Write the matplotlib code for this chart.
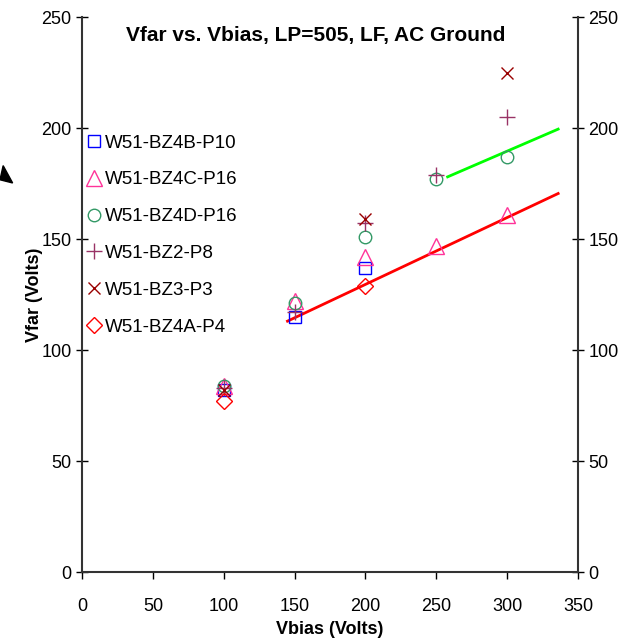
import matplotlib.pyplot as plt
from matplotlib.patches import Polygon

plt.rcParams['font.family'] = ['Liberation Sans', 'DejaVu Sans']

# data
vb_4b = [100, 150, 200]
vf_4b = [82, 115, 137]
vb_4c = [100, 150, 200, 250, 300]
vf_4c = [84, 122, 142, 147, 161]
vb_4d = [100, 150, 200, 250, 300]
vf_4d = [84, 121, 151, 177, 187]
vb_2 = [100, 150, 200, 250, 300]
vf_2 = [83, 117, 157, 179, 205]
vb_3 = [100, 200, 300]
vf_3 = [82, 159, 225]
vb_4a = [100, 200]
vf_4a = [77, 129]

# trend lines
red_x = [145, 336]
red_y = [113, 170.5]
green_x = [258, 336]
green_y = [178, 199.5]

fig = plt.figure(figsize=(6.31, 6.42), dpi=100)
ax = fig.add_axes([0.130, 0.109, 0.786, 0.8645])

ax.plot(red_x, red_y, color='#FF0000', lw=2, zorder=1)
ax.plot(green_x, green_y, color='#00FF00', lw=2, zorder=1)

ms = 9
ax.plot(vb_4b, vf_4b, ls='none', marker='s', ms=ms, mfc='none', mec='#0000FF', mew=1, label='W51-BZ4B-P10')
ax.plot(vb_4c, vf_4c, ls='none', marker='^', ms=ms + 2, mfc='none', mec='#FF3399', mew=1, label='W51-BZ4C-P16')
ax.plot(vb_4d, vf_4d, ls='none', marker='o', ms=ms, mfc='none', mec='#339966', mew=1, label='W51-BZ4D-P16')
ax.plot(vb_2, vf_2, ls='none', marker='+', ms=ms + 2, mec='#993366', mew=1, label='W51-BZ2-P8')
ax.plot(vb_3, vf_3, ls='none', marker='x', ms=ms, mec='#990000', mew=1, label='W51-BZ3-P3')
ax.plot(vb_4a, vf_4a, ls='none', marker='D', ms=ms - 1, mfc='none', mec='#FF0000', mew=1, label='W51-BZ4A-P4')

ax.set_xlim(0, 350)
ax.set_ylim(0, 250)
ax.set_xticks(range(0, 351, 50))
ax.set_yticks(range(0, 251, 50))
ax.spines['top'].set_visible(False)
for s in ['left', 'right', 'bottom']:
    ax.spines[s].set_color('#333333')
    ax.spines[s].set_linewidth(1.5)
ax.tick_params(axis='both', labelsize=13, width=1, colors='black')
ax.tick_params(axis='y', direction='inout', length=8, right=True, labelright=True)
ax.tick_params(axis='x', direction='out', length=5, pad=14)

ax.set_xlabel('Vbias (Volts)', fontsize=13, fontweight='bold', labelpad=4)
ax.set_ylabel('Vfar (Volts)', fontsize=13, fontweight='bold', labelpad=-1)
ax.text(0.472, 0.984, 'Vfar vs. Vbias, LP=505, LF, AC Ground', transform=ax.transAxes,
        ha='center', va='top', fontsize=15, fontweight='bold')

ax.legend(loc='upper left', bbox_to_anchor=(-0.002, 0.802), frameon=False, fontsize=13.5,
          handlelength=0.6, handletextpad=0.3, labelspacing=1.05, borderaxespad=0)

# stray arrowhead on the left edge
fig.patches.append(Polygon([[0.0, 0.720], [0.020, 0.715], [0.005, 0.742]],
                           closed=True, color='black', transform=fig.transFigure))

fig.savefig('out.png', dpi=100)
